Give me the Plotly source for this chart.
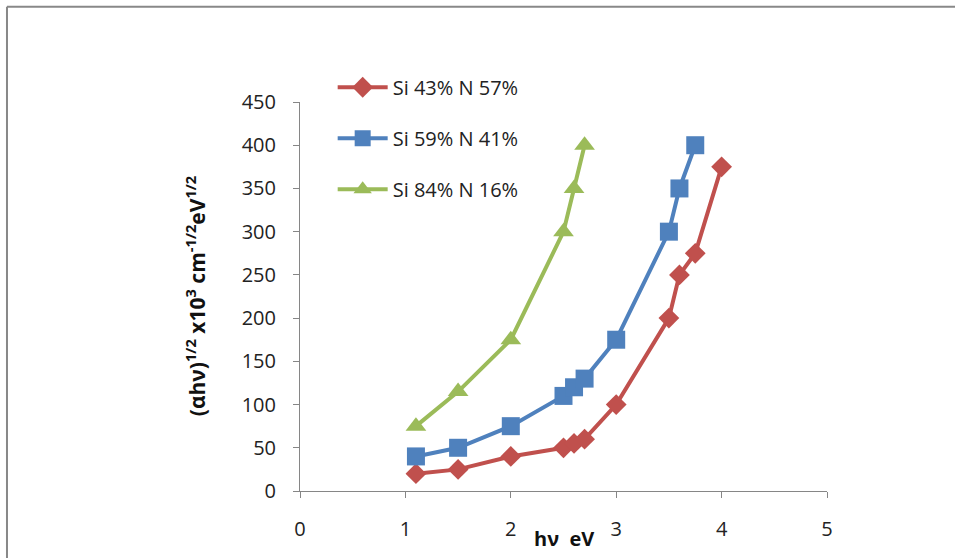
import plotly.graph_objects as go

red_x = [1.1, 1.5, 2.0, 2.5, 2.6, 2.7, 3.0, 3.5, 3.6, 3.75, 4.0]
red_y = [20, 25, 40, 50, 55, 60, 100, 200, 250, 275, 375]
blue_x = [1.1, 1.5, 2.0, 2.5, 2.6, 2.7, 3.0, 3.5, 3.6, 3.75]
blue_y = [40, 50, 75, 110, 120, 130, 175, 300, 350, 400]
green_x = [1.1, 1.5, 2.0, 2.5, 2.6, 2.7]
green_y = [75, 115, 175, 300, 350, 400]

names = ["Si 43% N 57%", "Si 59% N 41%", "Si 84% N 16%"]
colors = ["#C0504D", "#4F81BD", "#9BBB59"]
symbols = ["diamond", "square", "triangle-up"]
sizes = [16, 18, 18]

x_ticks = [0, 1, 2, 3, 4, 5]
y_ticks = [0, 50, 100, 150, 200, 250, 300, 350, 400, 450]

FONT = "Open Sans"

fig = go.Figure()
for i, (xs, ys) in enumerate([(red_x, red_y), (blue_x, blue_y), (green_x, green_y)]):
    fig.add_trace(go.Scatter(
        x=xs, y=ys, mode="lines+markers", name=names[i], legendgroup=str(i),
        line=dict(color=colors[i], width=4),
        marker=dict(symbol=symbols[i], size=sizes[i], color=colors[i]),
    ))

axis_col = "#868686"
fig.update_layout(
    width=955, height=558,
    margin=dict(l=300, r=128, t=102, b=67),
    paper_bgcolor="white", plot_bgcolor="white",
    font=dict(family=FONT, size=20, color="#222"),
    showlegend=True,
    legend=dict(x=0.062, y=1.088, xanchor="left", yanchor="top",
                bgcolor="rgba(0,0,0,0)", tracegroupgap=22, itemwidth=50,
                font=dict(family=FONT, size=20, color="#222")),
    xaxis=dict(range=[0, 5], tickvals=x_ticks, showgrid=False, zeroline=False,
               showline=True, linecolor=axis_col, linewidth=1,
               ticks="outside", ticklen=6, tickcolor=axis_col,
               ticklabelstandoff=14, tickfont=dict(size=20)),
    yaxis=dict(range=[0, 450], tickvals=y_ticks, showgrid=False, zeroline=False,
               showline=True, linecolor=axis_col, linewidth=1,
               ticks="outside", ticklen=6, tickcolor=axis_col,
               ticklabelstandoff=13, tickfont=dict(size=20)),
    annotations=[
        dict(text="<b>hν  eV</b>", xref="paper", yref="paper", x=0.5, y=-0.121,
             xanchor="center", yanchor="middle",
             showarrow=False, font=dict(size=20, color="#111")),
        dict(text="<b>(αhν)<sup>1/2</sup> x10<sup>3</sup> cm<sup>-1/2</sup>eV<sup>1/2</sup></b>",
             xref="paper", yref="paper", x=-0.198, y=0.5, textangle=-90,
             xanchor="center", yanchor="middle",
             showarrow=False, font=dict(size=21, color="#111")),
    ],
    shapes=[
        dict(type="line", xref="paper", yref="paper", x0=-0.556, x1=-0.556, y0=-0.3, y1=1.245,
             line=dict(color="#888", width=2)),
        dict(type="line", xref="paper", yref="paper", x0=-0.556, x1=1.3, y0=1.245, y1=1.245,
             line=dict(color="#888", width=2)),
    ],
)

fig.write_html("out.html", config={"displayModeBar": False},
               post_script="document.body.style.margin='0';document.body.style.overflow='hidden';")
